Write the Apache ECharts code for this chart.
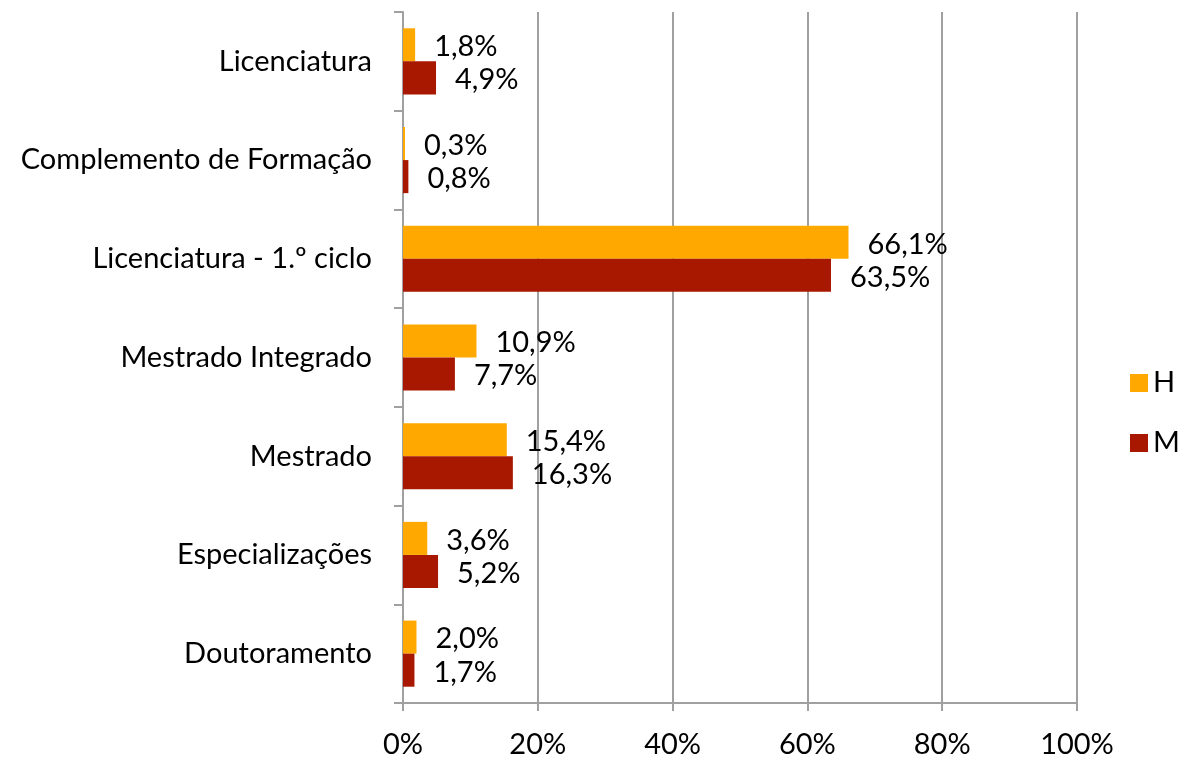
<!DOCTYPE html>
<html>
<head>
<meta charset="utf-8">
<script src="https://cdn.jsdelivr.net/npm/echarts@6/dist/echarts.min.js"></script>
<style>
  html, body { margin: 0; padding: 0; background: #fff; }
  #chart { width: 1178px; height: 759px; }
</style>
</head>
<body>
<div id="chart"></div>
<script>
var categories = ['Licenciatura', 'Complemento de Formação', 'Licenciatura - 1.º ciclo',
    'Mestrado Integrado', 'Mestrado', 'Especializações', 'Doutoramento'];
var valuesH = [1.8, 0.3, 66.1, 10.9, 15.4, 3.6, 2.0];
var valuesM = [4.9, 0.8, 63.5, 7.7, 16.3, 5.2, 1.7];
var xTicks = [0, 20, 40, 60, 80, 100];

var font = 'Lato';
var gray = '#a0a0a0';

function pct(p) {
    return p.value.toFixed(1).replace('.', ',') + '%';
}

function buildSeries(name, data, color) {
    return {
        name: name,
        type: 'bar',
        data: data,
        barGap: '0%',
        barCategoryGap: '33%',
        itemStyle: { color: color },
        label: {
            show: true,
            position: 'right',
            distance: 19,
            offset: [0, 2],
            formatter: pct,
            color: '#000',
            fontFamily: font,
            fontSize: 29
        }
    };
}

var chart = echarts.init(document.getElementById('chart'));
chart.setOption({
    animation: false,
    grid: { left: 403, right: 101, top: 12, bottom: 54 },
    legend: {
        orient: 'vertical',
        left: 1125,
        top: 362,
        itemWidth: 18,
        itemHeight: 18,
        itemGap: 28,
        icon: 'rect',
        textStyle: { fontFamily: font, fontSize: 29, color: '#000', lineHeight: 32 },
        data: ['H', 'M']
    },
    xAxis: {
        type: 'value',
        min: xTicks[0],
        max: xTicks[xTicks.length - 1],
        interval: 20,
        axisLine: { show: true, lineStyle: { color: gray, width: 2 } },
        axisTick: { show: true, length: 8, lineStyle: { color: gray, width: 2 } },
        axisLabel: {
            formatter: '{value}%',
            color: '#000',
            fontFamily: font,
            fontSize: 29,
            margin: 27
        },
        splitLine: { show: true, lineStyle: { color: gray, width: 2 } }
    },
    yAxis: {
        type: 'category',
        inverse: true,
        data: categories,
        axisLine: { show: true, lineStyle: { color: gray, width: 2 } },
        axisTick: { show: true, length: 9, lineStyle: { color: gray, width: 2 } },
        axisLabel: {
            color: '#000',
            fontFamily: font,
            fontSize: 29,
            margin: 31
        }
    },
    series: [
        buildSeries('H', valuesH, '#FFA800'),
        buildSeries('M', valuesM, '#A81800')
    ]
});
</script>
</body>
</html>
